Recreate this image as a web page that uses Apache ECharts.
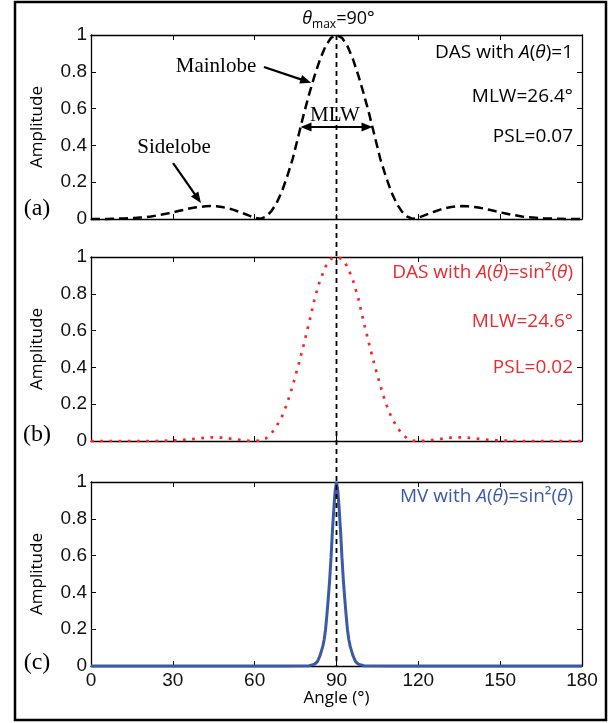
<!DOCTYPE html>
<html>
<head>
<meta charset="utf-8">
<script src="https://cdn.jsdelivr.net/npm/echarts@6/dist/echarts.min.js"></script>
<style>
  html, body { margin: 0; padding: 0; background: #fff; }
  #chart { width: 612px; height: 723px; }
</style>
</head>
<body>
<div id="chart"></div>
<script>
// Beam patterns of a steered array, steering angle 90°
const angles = [
  0, 2, 4, 6, 8, 10, 12, 14, 16, 18,
  20, 22, 24, 26, 28, 30, 32, 34, 36, 38,
  40, 42, 44, 46, 48, 50, 52, 54, 56, 58,
  60, 62, 64, 66, 68, 70, 72, 74, 76, 78,
  80, 82, 84, 86, 88, 90, 92, 94, 96, 98,
  100, 102, 104, 106, 108, 110, 112, 114, 116, 118,
  120, 122, 124, 126, 128, 130, 132, 134, 136, 138,
  140, 142, 144, 146, 148, 150, 152, 154, 156, 158,
  160, 162, 164, 166, 168, 170, 172, 174, 176, 178,
  180
];

// (a) delay-and-sum, A(θ)=1
const dasUniform = [
  0, 0, 0, 0, 0.001, 0.002, 0.003, 0.004, 0.006, 0.008,
  0.010, 0.014, 0.019, 0.024, 0.030, 0.036, 0.043, 0.050, 0.057, 0.062,
  0.066, 0.069, 0.070, 0.069, 0.065, 0.059, 0.051, 0.041, 0.030, 0.018,
  0.007, 0.001, 0.012, 0.040, 0.085, 0.150, 0.235, 0.330, 0.450, 0.570,
  0.680, 0.780, 0.870, 0.940, 0.985, 1.000, 0.985, 0.940, 0.870, 0.780,
  0.680, 0.570, 0.450, 0.330, 0.235, 0.150, 0.085, 0.040, 0.012, 0.001,
  0.007, 0.018, 0.030, 0.041, 0.051, 0.059, 0.065, 0.069, 0.070, 0.069,
  0.066, 0.062, 0.057, 0.050, 0.043, 0.036, 0.030, 0.024, 0.019, 0.014,
  0.010, 0.008, 0.006, 0.004, 0.003, 0.002, 0.001, 0, 0, 0,
  0
];

// (b) delay-and-sum, A(θ)=sin²(θ)
const dasSin2 = [
  0, 0, 0, 0, 0, 0, 0, 0, 0, 0,
  0, 0, 0, 0.001, 0.002, 0.003, 0.004, 0.006, 0.009, 0.012,
  0.015, 0.018, 0.020, 0.020, 0.018, 0.015, 0.011, 0.007, 0.003, 0.001,
  0, 0.002, 0.013, 0.038, 0.080, 0.133, 0.208, 0.304, 0.410, 0.525,
  0.645, 0.775, 0.875, 0.948, 0.990, 1.000, 0.990, 0.948, 0.875, 0.775,
  0.645, 0.525, 0.410, 0.304, 0.208, 0.133, 0.080, 0.038, 0.013, 0.002,
  0, 0.001, 0.003, 0.007, 0.011, 0.015, 0.018, 0.020, 0.020, 0.018,
  0.015, 0.012, 0.009, 0.006, 0.004, 0.003, 0.002, 0.001, 0, 0,
  0, 0, 0, 0, 0, 0, 0, 0, 0, 0,
  0
];

// (c) minimum variance, A(θ)=sin²(θ)
const mvAngles = [
  0, 10, 20, 30, 40, 50, 60, 70, 80,
  82, 83, 84, 85,
  85.5, 86, 86.5, 87, 87.5, 88, 88.5, 89, 89.5, 90,
  90.5, 91, 91.5, 92, 92.5, 93, 93.5, 94, 94.5,
  95, 96, 97, 98,
  100, 110, 120, 130, 140, 150, 160, 170, 180
];
const mvSin2 = [
  0, 0, 0, 0, 0, 0, 0, 0, 0.002,
  0.010, 0.024, 0.058, 0.108,
  0.145, 0.2, 0.28, 0.37, 0.47, 0.59, 0.73, 0.85, 0.95, 1,
  0.95, 0.85, 0.73, 0.59, 0.47, 0.37, 0.28, 0.2, 0.145,
  0.108, 0.058, 0.024, 0.010,
  0.002, 0, 0, 0, 0, 0, 0, 0, 0
];

const xTicks = [0, 30, 60, 90, 120, 150, 180];
const yTicks = [0, 0.2, 0.4, 0.6, 0.8, 1];
const steerAngle = 90;
const mlwUniform = 26.4;
const mlwSin2 = 24.6;
const pslUniform = 0.07;
const pslSin2 = 0.02;

const panelLabels = ['(a)', '(b)', '(c)'];
const infoTexts = [
  ['DAS with {i|A}({i|θ})=1', 'MLW=' + mlwUniform + '°', 'PSL=' + pslUniform.toFixed(2)],
  ['DAS with {i|A}({i|θ})=sin²({i|θ})', 'MLW=' + mlwSin2 + '°', 'PSL=' + pslSin2.toFixed(2)],
  ['MV with {i|A}({i|θ})=sin²({i|θ})']
];

const SANS = '"Open Sans", "DejaVu Sans", sans-serif';
const TICKFONT = '"Liberation Sans", Arial, sans-serif';
const SERIF = '"Liberation Serif", "Times New Roman", serif';
const RED = '#ff2222';
const RED_TEXT = '#ea2a2f';
const BLUE = '#3a5aa8';

const gridTops = [35, 257, 482];
const gridH = 184;
const gridLeft = 91;
const gridW = 491;

const xStep = xTicks[1] - xTicks[0];
const yStep = +(yTicks[1] - yTicks[0]).toFixed(3);

const axisLine = { show: true, onZero: false, lineStyle: { color: '#000', width: 1.3 } };
const axisTick = { show: true, inside: true, length: 5, lineStyle: { color: '#000', width: 1 } };

const grid = [];
const xAxis = [];
const yAxis = [];
gridTops.forEach((top, i) => {
  grid.push({ left: gridLeft, top: top, width: gridW, height: gridH });
  ['bottom', 'top'].forEach(pos => {
    xAxis.push({
      type: 'value', gridIndex: i, position: pos,
      min: xTicks[0], max: xTicks[xTicks.length - 1], interval: xStep,
      axisLine: axisLine, axisTick: axisTick, splitLine: { show: false },
      axisLabel: {
        show: pos === 'bottom' && i === gridTops.length - 1,
        fontFamily: TICKFONT, fontSize: 19, color: '#111', margin: 5
      }
    });
  });
  ['left', 'right'].forEach(pos => {
    yAxis.push({
      type: 'value', gridIndex: i, position: pos,
      min: yTicks[0], max: yTicks[yTicks.length - 1], interval: yStep,
      axisLine: axisLine, axisTick: axisTick, splitLine: { show: false },
      axisLabel: {
        show: pos === 'left',
        fontFamily: TICKFONT, fontSize: 19, color: '#111', margin: 4
      }
    });
  });
});

const pairs = (xs, ys) => xs.map((x, k) => [x, ys[k]]);

const option = {
  animation: false,
  backgroundColor: '#fff',
  grid: grid,
  xAxis: xAxis,
  yAxis: yAxis,
  series: [
    {
      type: 'line', xAxisIndex: 0, yAxisIndex: 0, data: pairs(angles, dasUniform),
      symbol: 'none', clip: false, silent: true, z: 5,
      lineStyle: { color: '#000', width: 2.5, type: [9, 5] }
    },
    {
      type: 'line', xAxisIndex: 2, yAxisIndex: 2, data: pairs(angles, dasSin2),
      symbol: 'none', clip: false, silent: true, z: 5,
      lineStyle: { color: RED, width: 2.7, type: [2.7, 6.5] }
    },
    {
      type: 'line', xAxisIndex: 4, yAxisIndex: 4, data: pairs(mvAngles, mvSin2),
      symbol: 'none', clip: false, silent: true, z: 5,
      lineStyle: { color: BLUE, width: 3 }
    }
  ]
};

const chart = echarts.init(document.getElementById('chart'));
chart.setOption(option);

const px = (g, x, y) => chart.convertToPixel({ xAxisIndex: 2 * g, yAxisIndex: 2 * g }, [x, y]);

function arrow(from, tip, both) {
  const els = [];
  const len = 11, halfW = 4.5;
  const head = (a, b) => {
    const dx = a[0] - b[0], dy = a[1] - b[1];
    const d = Math.hypot(dx, dy);
    const ux = dx / d, uy = dy / d;
    const bx = a[0] - ux * len, by = a[1] - uy * len;
    els.push({
      type: 'polygon', z: 30, silent: true,
      shape: { points: [[a[0], a[1]], [bx - uy * halfW, by + ux * halfW], [bx + uy * halfW, by - ux * halfW]] },
      style: { fill: '#000' }
    });
    return [a[0] - ux * len * 0.7, a[1] - uy * len * 0.7];
  };
  const end = head(tip, from);
  const start = both ? head(from, tip) : from;
  els.push({
    type: 'line', z: 30, silent: true,
    shape: { x1: start[0], y1: start[1], x2: end[0], y2: end[1] },
    style: { stroke: '#000', lineWidth: 2.2 }
  });
  return els;
}

function text(x, y, str, opts) {
  const size = opts.size || 18;
  const family = opts.family || SANS;
  const color = opts.color || '#000';
  return {
    type: 'text', x: x, y: y, z: 40, silent: true, rotation: opts.rotation || 0,
    style: {
      text: str, fontFamily: family, fontSize: size, fill: color,
      align: opts.align || 'center', verticalAlign: 'middle',
      rich: {
        i: { fontFamily: family, fontSize: size, fill: color, fontStyle: 'italic' },
        s: { fontFamily: family, fontSize: 12, fill: color, padding: [11, 0, 0, 0] }
      }
    }
  };
}

const graphic = [];

// outer frame
graphic.push({
  type: 'rect', z: 50, silent: true,
  shape: { x: 15, y: 2, width: 591, height: 718 },
  style: { fill: 'none', stroke: '#000', lineWidth: 2.5 }
});

// steering direction across all panels
const vTop = px(0, steerAngle, yTicks[yTicks.length - 1]);
const vBot = px(2, steerAngle, yTicks[0]);
graphic.push({
  type: 'line', z: 20, silent: true,
  shape: { x1: vTop[0], y1: vTop[1], x2: vBot[0], y2: vBot[1] },
  style: { stroke: '#000', lineWidth: 1.8, lineDash: [5, 4] }
});
graphic.push(text(vTop[0] + 2, vTop[1] - 16, '{i|θ}{s|max}=' + steerAngle + '°', { size: 18 }));

// per-panel labels
const textColors = ['#000', RED_TEXT, BLUE];
const infoY = [[18, 62, 102], [16, 65, 111], [15]];
gridTops.forEach((top, i) => {
  graphic.push(text(37, top + gridH / 2, 'Amplitude', { size: 17, rotation: Math.PI / 2 }));
  graphic.push(text(37, top + gridH - [10, 6, 3][i], panelLabels[i], { size: 24, family: SERIF }));
  infoTexts[i].forEach((t, k) => {
    graphic.push(text(gridLeft + gridW - 9, top + infoY[i][k], t, { size: 19, color: textColors[i], align: 'right' }));
  });
});

// x axis title
graphic.push(text(gridLeft + gridW / 2, 698, 'Angle (°)', { size: 17 }));

// annotations on panel (a)
graphic.push(text(216, 66, 'Mainlobe', { size: 21, family: SERIF }));
graphic.push(text(174, 147, 'Sidelobe', { size: 21, family: SERIF }));
graphic.push(text(335, 115, 'MLW', { size: 21, family: SERIF }));
graphic.push(...arrow(px(0, 63.4, 0.826), px(0, 80.7, 0.74), false));
graphic.push(...arrow(px(0, 30.1, 0.304), px(0, 40.3, 0.087), false));
graphic.push(...arrow(px(0, steerAngle - mlwUniform / 2, 0.5), px(0, steerAngle + mlwUniform / 2, 0.5), true));

chart.setOption({ graphic: graphic });
</script>
</body>
</html>
